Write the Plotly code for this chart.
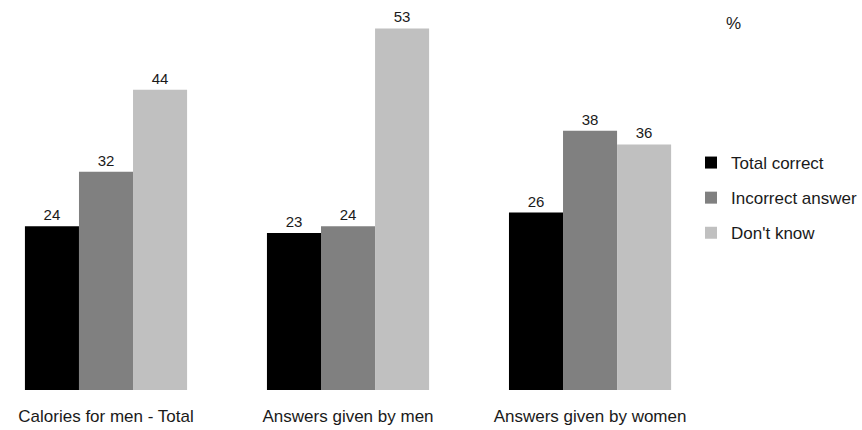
import plotly.graph_objects as go

# Survey results: share of answers per respondent group (%)
categories = ["Calories for men - Total", "Answers given by men", "Answers given by women"]
series_names = ["Total correct", "Incorrect answer", "Don't know"]
total_correct = [24, 23, 26]
incorrect_answer = [32, 24, 38]
dont_know = [44, 53, 36]
unit_label = "%"

series_values = [total_correct, incorrect_answer, dont_know]
series_colors = ["#000000", "#808080", "#c0c0c0"]

FONT = "Liberation Sans, Arial, sans-serif"
TEXT_COLOR = "#1a1a1a"

positions = list(range(len(categories)))

fig = go.Figure()
for i, (name, vals, color) in enumerate(zip(series_names, series_values, series_colors)):
    fig.add_trace(go.Bar(
        x=positions,
        y=vals,
        name=name,
        legendgroup=f"g{i}",
        marker=dict(color=color, line=dict(width=0)),
        text=[str(v) for v in vals],
        textposition="outside",
        textfont=dict(family=FONT, size=15, color=TEXT_COLOR),
        cliponaxis=False,
    ))

fig.update_layout(
    width=862,
    height=430,
    margin=dict(l=0, r=172, t=10, b=40),
    paper_bgcolor="white",
    plot_bgcolor="white",
    barmode="group",
    bargap=0.33,
    bargroupgap=0,
    font=dict(family=FONT, size=17, color=TEXT_COLOR),
    showlegend=True,
    legend=dict(
        xref="container", yref="container",
        x=691 / 862, y=1 - 145 / 430,
        xanchor="left", yanchor="top",
        tracegroupgap=10,
        itemwidth=30,
        font=dict(family=FONT, size=17, color=TEXT_COLOR),
        bgcolor="rgba(0,0,0,0)",
    ),
    xaxis=dict(
        range=[-0.438, 2.413],
        tickmode="array",
        tickvals=positions,
        ticktext=categories,
        showline=False,
        showgrid=False,
        zeroline=False,
        ticks="",
        ticklabelstandoff=14,
        tickfont=dict(family=FONT, size=17, color=TEXT_COLOR),
    ),
    yaxis=dict(
        range=[0, 55.7],
        visible=False,
        showgrid=False,
        zeroline=False,
    ),
    annotations=[
        dict(
            text=unit_label,
            xref="paper", yref="paper",
            x=733 / 690, y=1 - 13 / 380,
            xanchor="center", yanchor="middle",
            showarrow=False,
            font=dict(family=FONT, size=17, color=TEXT_COLOR),
        )
    ],
)

fig.write_html("out.html")
